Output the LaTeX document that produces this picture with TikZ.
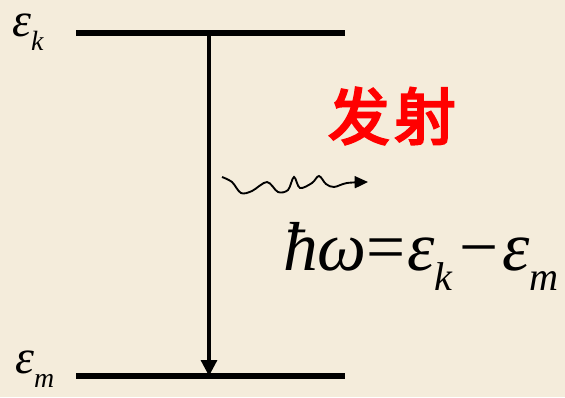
\documentclass[tikz,border=0pt]{standalone}
\usepackage{fontspec}
\newfontfamily\cjk[FakeBold=4]{Noto Sans CJK SC}
\newfontfamily\tms{Liberation Serif}
\usetikzlibrary{arrows.meta}
\definecolor{bg}{RGB}{244,236,219}
\definecolor{hot}{RGB}{255,0,0}
\newcommand\mysub[1]{\raisebox{-0.3em}{\fontsize{0.58em}{0.7em}\selectfont #1}}
\tikzset{
  level/.style={line width=3.8pt},
  trans/.style={line width=2.4pt,-{Triangle[length=12pt,width=12pt]}},
  photon/.style={line width=1.4pt,-{Triangle[length=10pt,width=9pt]}},
  lab/.style={inner sep=0pt,font=\fontsize{36}{38}\selectfont\tms\itshape},
}
\begin{document}
\begin{tikzpicture}[x=0.75pt,y=-0.75pt]
\fill[bg] (0,0) rectangle (565,397);
\useasboundingbox (0,0) rectangle (565,397);
\coordinate (k1) at (76,33);
\coordinate (k2) at (345,33);
\coordinate (m1) at (76,376);
\coordinate (m2) at (345,376);
\coordinate (top) at (209,33);
\coordinate (bot) at (209,376);
\draw[level] (k1) -- (k2);
\draw[level] (m1) -- (m2);
\draw[trans] (top) -- (bot);
\node[lab,anchor=base west] (ek) at (12,36) {ε\mysub{k}};
\node[lab,anchor=base west] (em) at (15,373) {ε\mysub{m}};
\node[inner sep=0pt,anchor=center,text=hot] (fs) at (392,116) {\fontsize{46}{48}\selectfont\cjk 发\kern0.08em 射};
\coordinate (ws) at (222,177);
\coordinate (we) at (368,182);
\draw[photon] plot[smooth,tension=0.55] coordinates {(ws) (232,182) (241,193) (252,191) (267,182) (278,192) (288,190) (294,177) (300,188) (312,183) (319,176) (326,184) (334,187) (347,183) (we)};
\node[inner sep=0pt,anchor=base west,font=\fontsize{52}{56}\selectfont\tms\itshape] (eq) at (283,270) {ħω\upshape=\kern0.02em\itshape ε\mysub{k}\kern0.1em\upshape −\kern0.05em\itshape ε\mysub{m}};
\end{tikzpicture}
\end{document}
